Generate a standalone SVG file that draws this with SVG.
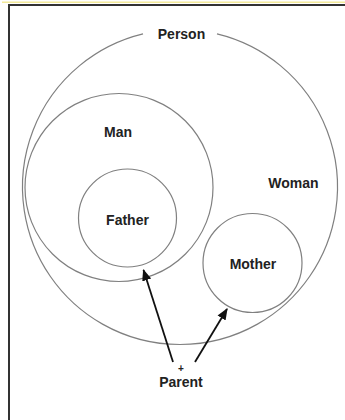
<svg xmlns="http://www.w3.org/2000/svg" width="345" height="420" viewBox="0 0 345 420">
  <style>
    .set { fill: none; stroke: #808080; stroke-width: 1.2; }
    .label { font-family: "Liberation Sans", Arial, sans-serif; font-size: 14px; font-weight: bold; fill: #222; text-anchor: middle; }
    .link { stroke: #111; stroke-width: 1.8; fill: none; }
  </style>
  <defs>
    <marker id="arrow" viewBox="0 0 10 10" refX="9" refY="5" markerWidth="6.5" markerHeight="6.5" markerUnits="strokeWidth" orient="auto">
      <path d="M0,1 L10,5 L0,9 Z" fill="#111"/>
    </marker>
  </defs>

  <rect x="0" y="0" width="345" height="420" fill="#fff"/>

  <!-- frame -->
  <g id="frame">
    <line x1="2" y1="2.2" x2="345" y2="2.2" stroke="#f3ea9a" stroke-width="1.5"/>
    <line x1="8" y1="5" x2="345" y2="5" stroke="#333" stroke-width="2"/>
    <line x1="9" y1="4" x2="9" y2="420" stroke="#333" stroke-width="2"/>
  </g>

  <g id="person">
    <path class="set" d="M 143 33.9 A 157.5 157.5 0 1 0 217 33.9"/>
    <text class="label" x="181.5" y="39">Person</text>
  </g>

  <g id="woman">
    <text class="label" x="293.5" y="188">Woman</text>
  </g>

  <g id="man">
    <circle class="set" cx="119" cy="187.5" r="94"/>
    <text class="label" x="118" y="137">Man</text>
  </g>

  <g id="father">
    <circle class="set" cx="127.5" cy="218" r="49"/>
    <text class="label" x="127.5" y="225">Father</text>
  </g>

  <g id="mother">
    <circle class="set" cx="252.5" cy="263" r="49.5"/>
    <text class="label" x="253" y="269">Mother</text>
  </g>

  <g id="parent">
    <text class="label" x="181" y="372" style="font-size:10px">+</text>
    <text class="label" x="181" y="387">Parent</text>
  </g>

  <g id="connectors">
    <line class="link" x1="173" y1="362" x2="143.5" y2="270" marker-end="url(#arrow)"/>
    <line class="link" x1="195" y1="362" x2="227" y2="309" marker-end="url(#arrow)"/>
  </g>
</svg>
